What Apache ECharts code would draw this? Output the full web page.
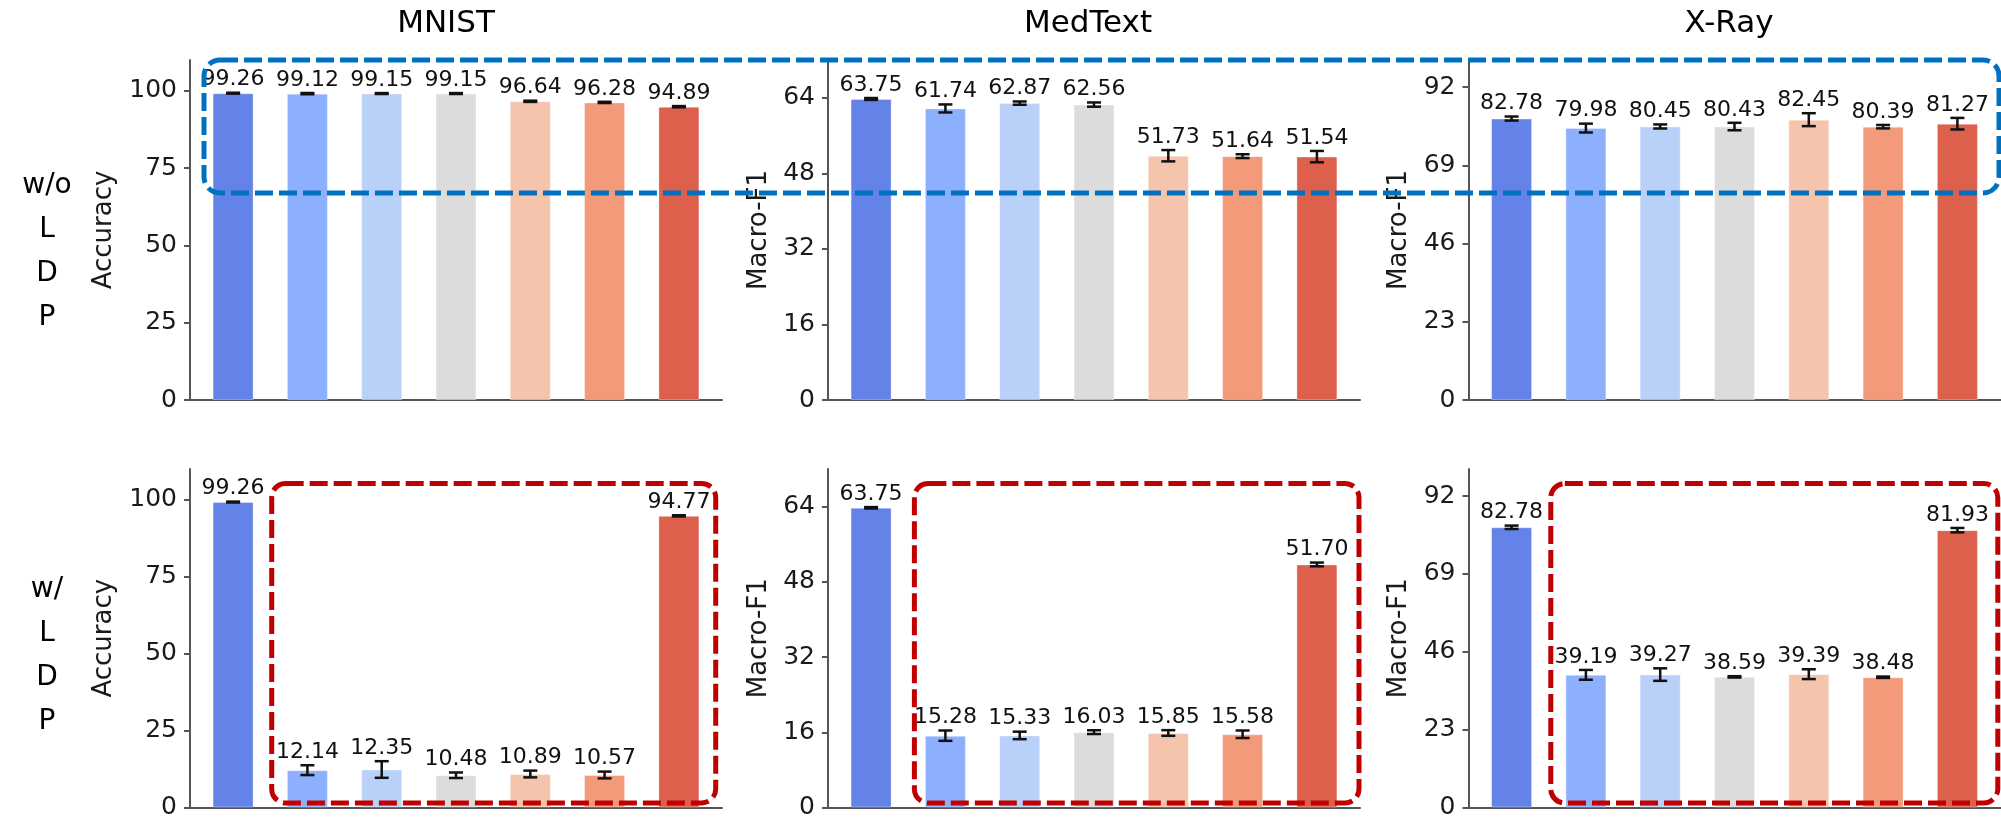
<!DOCTYPE html>
<html><head><meta charset="utf-8">
<script src="https://cdn.jsdelivr.net/npm/echarts@6/dist/echarts.min.js"></script>
<style>html,body{margin:0;padding:0;background:#fff}#c{width:2001px;height:820px}</style>
</head><body><div id="c"></div>
<script>
// ---- data ----
const methods = ['Method 1','Method 2','Method 3','Method 4','Method 5','Method 6','Method 7'];
const datasets = ['MNIST','MedText','X-Ray'];
const metricNames = ['Accuracy','Macro-F1','Macro-F1'];
const rowLabels = ['w/o\nL\nD\nP','w/\nL\nD\nP'];
const barColors = ['#6383e8','#8db0fe','#b9d0f9','#dcdcdc','#f4c4ad','#f39a7b','#dd604c'];

const mnistNoLdp     = [99.26, 99.12, 99.15, 99.15, 96.64, 96.28, 94.89];
const mnistNoLdpErr  = [0.15, 0.2, 0.15, 0.15, 0.2, 0.2, 0.2];
const mnistLdp       = [99.26, 12.14, 12.35, 10.48, 10.89, 10.57, 94.77];
const mnistLdpErr    = [0.15, 1.6, 2.7, 0.9, 1.1, 1.1, 0.2];

const medTextNoLdp    = [63.75, 61.74, 62.87, 62.56, 51.73, 51.64, 51.54];
const medTextNoLdpErr = [0.2, 0.85, 0.35, 0.45, 1.2, 0.4, 1.2];
const medTextLdp      = [63.75, 15.28, 15.33, 16.03, 15.85, 15.58, 51.70];
const medTextLdpErr   = [0.15, 1.1, 0.8, 0.4, 0.6, 0.8, 0.4];

const xrayNoLdp    = [82.78, 79.98, 80.45, 80.43, 82.45, 80.39, 81.27];
const xrayNoLdpErr = [0.6, 1.3, 0.6, 1.1, 1.9, 0.5, 1.7];
const xrayLdp      = [82.78, 39.19, 39.27, 38.59, 39.39, 38.48, 81.93];
const xrayLdpErr   = [0.5, 1.45, 1.85, 0.2, 1.45, 0.2, 0.65];

const mnistTicks   = [0, 25, 50, 75, 100];
const medTextTicks = [0, 16, 32, 48, 64];
const xrayTicks    = [0, 23, 46, 69, 92];
const axisMax      = [110, 72, 100];

// ---- layout ----
const gridLefts = [190, 828, 1468.5];
const gridWidth = 532;
const rowTops = [60, 469];
const rowHeights = [340, 341];
const FONT = 'DejaVu Sans';

const panels = [
  [[mnistNoLdp, mnistNoLdpErr], [medTextNoLdp, medTextNoLdpErr], [xrayNoLdp, xrayNoLdpErr]],
  [[mnistLdp, mnistLdpErr], [medTextLdp, medTextLdpErr], [xrayLdp, xrayLdpErr]]
];
const tickSets = [mnistTicks, medTextTicks, xrayTicks];

const grids = [], xAxes = [], yAxes = [], series = [];
let p = 0;
for (let r = 0; r < 2; r++) {
  for (let c = 0; c < 3; c++) {
    const [vals, errs] = panels[r][c];
    const ticks = tickSets[c];
    grids.push({left: gridLefts[c], top: rowTops[r], width: gridWidth, height: rowHeights[r], containLabel: false});
    xAxes.push({
      gridIndex: p, type: 'value', min: -0.58, max: 6.58,
      axisLine: {show: true, onZero: false, lineStyle: {color: '#555', width: 2}},
      axisTick: {show: false}, axisLabel: {show: false}, splitLine: {show: false}
    });
    yAxes.push({
      gridIndex: p, type: 'value', min: 0, max: axisMax[c], interval: ticks[1],
      axisLine: {show: true, onZero: false, lineStyle: {color: '#555', width: 2}},
      axisTick: {show: true, length: 6, customValues: ticks, lineStyle: {color: '#555', width: 2}},
      axisLabel: {customValues: ticks, fontSize: 25, fontFamily: FONT, color: '#1a1a1a', margin: 13},
      splitLine: {show: false},
      name: metricNames[c], nameLocation: 'middle', nameGap: c === 0 ? 73 : 56,
      nameTextStyle: {fontSize: 26, fontFamily: FONT, color: '#1a1a1a'}
    });
    series.push({
      type: 'bar', xAxisIndex: p, yAxisIndex: p, barWidth: 41,
      data: vals.map((v, i) => ({value: [i, v], name: methods[i],
        itemStyle: {color: barColors[i], borderColor: 'rgba(255,255,255,0.35)', borderWidth: 1}})),
      z: 2
    });
    series.push({
      type: 'custom', xAxisIndex: p, yAxisIndex: p, z: 5,
      data: vals.map((v, i) => [i, v, errs[i]]),
      renderItem: function (params, api) {
        const x = api.value(0), v = api.value(1), e = api.value(2);
        const t = api.coord([x, v + e]), b = api.coord([x, v - e]);
        const cw = 7, st = {stroke: '#111', lineWidth: 2.5};
        return {type: 'group', children: [
          {type: 'line', shape: {x1: t[0], y1: t[1], x2: b[0], y2: b[1]}, style: st},
          {type: 'line', shape: {x1: t[0] - cw, y1: t[1], x2: t[0] + cw, y2: t[1]}, style: st},
          {type: 'line', shape: {x1: b[0] - cw, y1: b[1], x2: b[0] + cw, y2: b[1]}, style: st},
          {type: 'text', style: {text: v.toFixed(2), x: t[0], y: t[1] - 2, align: 'center', verticalAlign: 'bottom',
            fontSize: 22, fontFamily: FONT, fill: '#111'}}
        ]};
      }
    });
    p++;
  }
}

const titleCenters = [446, 1088, 1729];
const graphics = [];
datasets.forEach((d, c) => graphics.push({type: 'text', z: 50,
  style: {text: d, x: titleCenters[c], y: 24, align: 'center', verticalAlign: 'middle', fontSize: 31, fontFamily: FONT, fill: '#000'}}));
[252, 656].forEach((cy, r) => graphics.push({type: 'text', z: 50,
  style: {text: rowLabels[r], x: 47, y: cy, align: 'center', verticalAlign: 'middle', fontSize: 28, lineHeight: 44, fontFamily: FONT, fill: '#000'}}));
const boxes = [
  {x: 204, y: 60, w: 1795, h: 133, color: '#0070c0', r: 16},
  {x: 271.7, y: 483.5, w: 444, h: 319.5, color: '#c00000', r: 14},
  {x: 914.4, y: 483.5, w: 444.6, h: 319.5, color: '#c00000', r: 14},
  {x: 1550.8, y: 483.5, w: 447, h: 319.5, color: '#c00000', r: 14}
];
boxes.forEach(b => graphics.push({type: 'rect', z: 100,
  shape: {x: b.x, y: b.y, width: b.w, height: b.h, r: b.r},
  style: {fill: 'none', stroke: b.color, lineWidth: 5, lineDash: [18, 6]}}));

const chart = echarts.init(document.getElementById('c'), null, {renderer: 'canvas'});
chart.setOption({
  animation: false, backgroundColor: '#fff',
  grid: grids, xAxis: xAxes, yAxis: yAxes, series: series, graphic: graphics
});
</script></body></html>
